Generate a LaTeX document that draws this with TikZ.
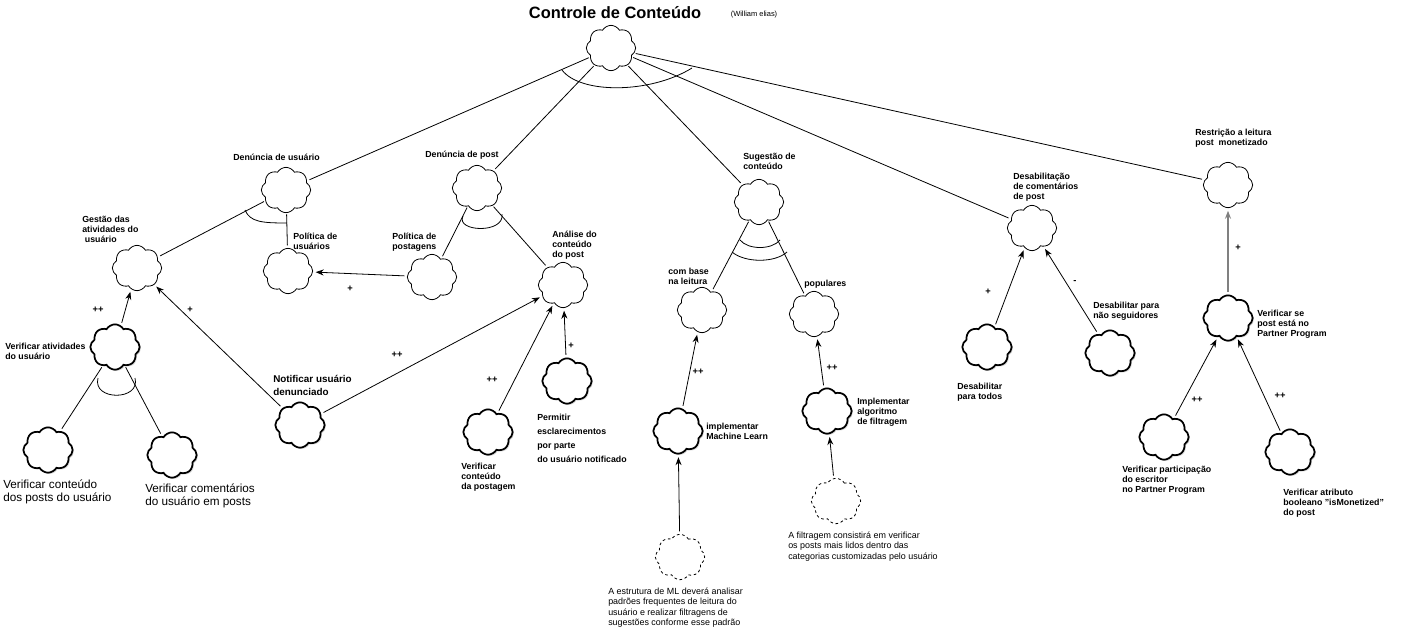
\documentclass[tikz,border=0pt]{standalone}
\usepackage{fontspec}
\setmainfont{Liberation Sans}
\usetikzlibrary{shapes.symbols,shadows,arrows.meta}
\tikzset{
  soft/.style={cloud, draw, cloud puffs=8, cloud puff arc=120, aspect=1.1,
    minimum width=37pt, minimum height=34pt, inner sep=0pt, line width=0.6pt},
  task/.style={soft, line width=1.3pt, fill=white,
    drop shadow={shadow xshift=1pt, shadow yshift=-1pt, opacity=0.3}},
  claim/.style={soft, dash pattern=on 2pt off 2pt},
  lbl/.style={anchor=north west, inner sep=0pt, align=left,
    font=\bfseries\fontsize{6.6}{7.6}\selectfont},
  note/.style={anchor=north west, inner sep=0pt, align=left,
    font=\fontsize{6.7}{7.6}\selectfont},
  contrib/.style={inner sep=0pt, font=\bfseries\fontsize{7}{7}\selectfont},
  link/.style={line width=0.6pt, shorten <=1pt, shorten >=2pt},
  contr/.style={-{Stealth[length=6pt,width=4.5pt]}, line width=0.6pt, shorten <=2pt, shorten >=2pt}
}
\begin{document}
\begin{tikzpicture}[x=0.75pt, y=-0.75pt]
  \useasboundingbox (0,0) rectangle (1421,626);
  \node (title) at (615,13) {\bfseries\fontsize{12.3}{14}\selectfont Controle de Conteúdo};
  \node (author) at (754,15) {\fontsize{5.6}{6}\selectfont (William elias)};
  % softgoals
  \foreach \Name/\Pos in {root/{611,48}, denUsr/{286,190}, denPost/{477,188}, sug/{759,202},
      desab/{1032,228}, restr/{1228,185}, gestao/{137,268}, polUsr/{288,271},
      polPost/{432,277}, analise/{563,285}, comBase/{702,310}, pop/{814,314}} {
    \node[soft] (\Name) at (\Pos) {};
  }
  % operationalizations
  \foreach \Name/\Pos in {notif/{300,425}, verAtiv/{115,347}, verCont/{48,450}, verCom/{172,455},
      verPost/{488,432}, permitir/{567,381}, ml/{678,431}, alg/{827,411},
      paraTodos/{987,347}, naoSeg/{1110,353}, partner/{1228,318}, particip/{1164,437},
      atrib/{1290,452}} {
    \node[task] (\Name) at (\Pos) {};
  }
  \node[claim] (noteML) at (680,557) {};
  \node[claim] (noteAlg) at (836,501) {};

  \node[lbl] (tDenUsr) at (233,154) {Denúncia de usuário};
  \node[lbl] (tDenPost) at (425,151) {Denúncia de post};
  \node[lbl] (tSug) at (743,153) {Sugestão de\\conteúdo};
  \node[lbl] (tDesab) at (1013,173) {Desabilitação\\de comentários\\de post};
  \node[lbl] (tRestr) at (1195,129) {Restrição a leitura\\post\ \ monetizado};
  \node[lbl] (tGestao) at (82,216) {Gestão das\\atividades do\\\hspace{2pt}usuário};
  \node[lbl] (tPolUsr) at (293,233) {Política de\\usuários};
  \node[lbl] (tPolPost) at (392,233) {Política de\\postagens};
  \node[lbl] (tAnalise) at (552,231) {Análise do\\conteúdo\\do post};
  \node[lbl, font=\bfseries\fontsize{7.4}{9.75}\selectfont] (tNotif) at (273,375) {Notificar usuário\\denunciado};
  \node[lbl] (tVerAtiv) at (5,343) {Verificar atividades\\do usuário};
  \node[note, font=\fontsize{8.8}{9.5}\selectfont] (tVerCont) at (3,480) {Verificar conteúdo\\dos posts do usuário};
  \node[note, font=\fontsize{8.8}{9.5}\selectfont] (tVerCom) at (145,484) {Verificar comentários\\do usuário em posts};
  \node[lbl] (tVerPost) at (461,463) {Verificar\\conteúdo\\da postagem};
  \node[lbl, font=\bfseries\fontsize{6.6}{10.5}\selectfont] (tPermitir) at (537,414) {Permitir\\esclarecimentos\\por parte\\do usuário notificado};
  \node[lbl] (tComBase) at (668,268) {com base\\na leitura};
  \node[lbl] (tPop) at (804,280) {populares};
  \node[lbl] (tML) at (706,423) {implementar\\Machine Learn};
  \node[lbl] (tAlg) at (857,398) {Implementar\\algoritmo\\de filtragem};
  \node[note] (tNoteML) at (608,588) {A estrutura de ML deverá analisar\\padrões frequentes de leitura do\\usuário e realizar filtragens de\\sugestões conforme esse padrão};
  \node[note] (tNoteAlg) at (788,532) {A filtragem consistirá em verificar\\os posts mais lidos dentro das\\categorias customizadas pelo usuário};
  \node[lbl] (tParaTodos) at (957,383) {Desabilitar\\para todos};
  \node[lbl] (tNaoSeg) at (1093,302) {Desabilitar para\\não seguidores};
  \node[lbl] (tPartner) at (1257,310) {Verificar se\\post está no\\Partner Program};
  \node[lbl] (tParticip) at (1122,466) {Verificar participação\\do escritor\\no Partner Program};
  \node[lbl] (tAtrib) at (1283,489) {Verificar atributo\\booleano "isMonetized"\\do post};

  % decompositions
  \foreach \From/\To in {root/denUsr, root/denPost, root/sug, root/desab, root/restr,
      denUsr/gestao, denUsr/polUsr, denPost/polPost, denPost/analise,
      verAtiv/verCont, verAtiv/verCom, sug/comBase, sug/pop} {
    \draw[link] (\From) -- (\To);
  }
  \draw[line width=0.6pt] (562,70) .. controls (580,94) and (650,94) .. (692,68);
  \draw[line width=0.6pt] (245,210) .. controls (250,222) and (262,223) .. (287,223);
  \draw[line width=0.6pt] (463,216) .. controls (455,232) and (505,234) .. (502,214);
  \draw[line width=0.6pt] (98,378) .. controls (92,401) and (141,401) .. (135,378);
  \draw[line width=0.6pt] (740,240) .. controls (748,250) and (772,250) .. (780,240);
  \draw[line width=0.6pt] (732,252) .. controls (745,263) and (775,263) .. (787,252);

  % contributions
  \foreach \From/\To in {polPost/polUsr, notif/gestao, verAtiv/gestao, notif/analise,
      verPost/analise, permitir/analise, ml/comBase, alg/pop, noteML/ml, noteAlg/alg,
      paraTodos/desab, naoSeg/desab, particip/partner, atrib/partner} {
    \draw[contr] (\From) -- (\To);
  }
  \draw[contr, gray, line width=1.2pt] (partner) -- (restr);

  \node[contrib] (c1) at (350,289) {+};
  \node[contrib] (c2) at (190,310) {+};
  \node[contrib] (c3) at (98,310) {++};
  \node[contrib] (c4) at (397,355) {++};
  \node[contrib] (c5) at (492,380) {++};
  \node[contrib] (c6) at (571,346) {+};
  \node[contrib] (c7) at (698,372) {++};
  \node[contrib] (c8) at (832,368) {++};
  \node[contrib] (c9) at (988,292) {+};
  \node[contrib] (c10) at (1075,282) {-};
  \node[contrib] (c11) at (1238,248) {+};
  \node[contrib] (c12) at (1197,400) {++};
  \node[contrib] (c13) at (1280,396) {++};
\end{tikzpicture}
\end{document}
